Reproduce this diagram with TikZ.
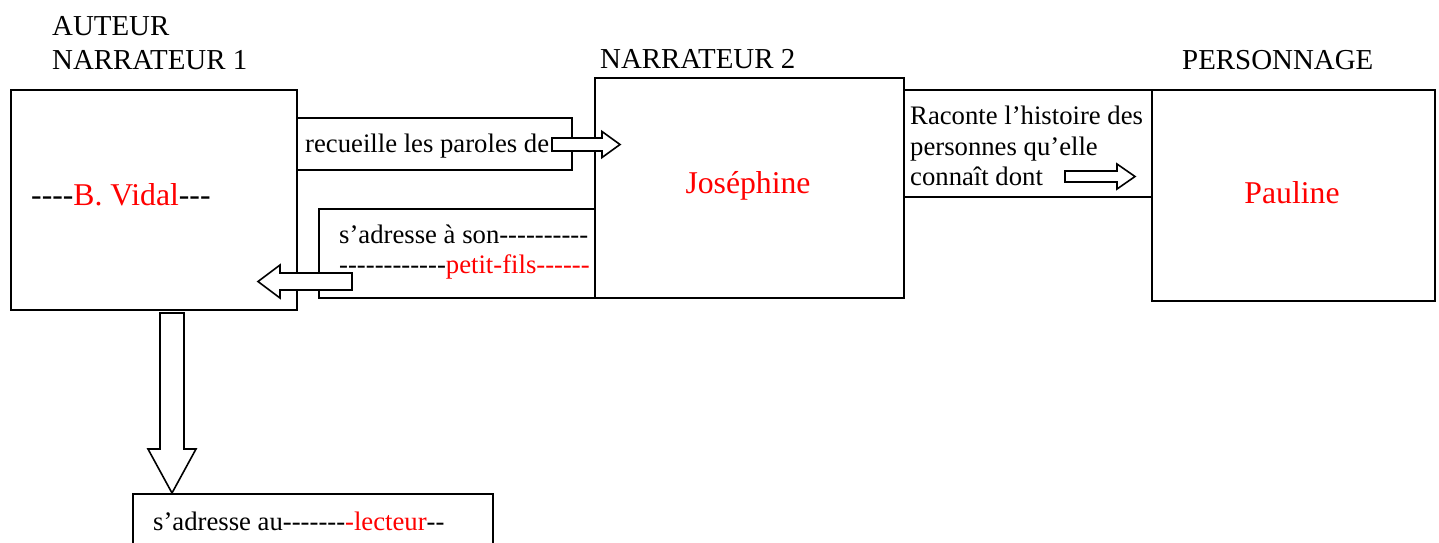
\documentclass[tikz,border=0pt]{standalone}
\usepackage{fontspec}
\setmainfont{Liberation Serif}[Ligatures=TeXOff]
\begin{document}
\begin{tikzpicture}[x=1pt,y=-1pt,
  box/.style={draw, line width=1.6pt, inner sep=0pt, anchor=north west},
  txt/.style={inner sep=0pt, anchor=base west, font=\fontsize{26.7}{31}\selectfont},
  ttl/.style={inner sep=0pt, anchor=base west, font=\fontsize{28.9}{34}\selectfont},
  nm/.style={inner sep=0pt, anchor=base, font=\fontsize{31.7}{36}\selectfont},
  barrow/.style={draw, fill=white, line width=1.6pt, line join=miter},
]
\useasboundingbox (0,0) rectangle (1439,542);
\clip (0,0) rectangle (1439,542);
% boxes
\node[box, minimum width=286pt, minimum height=220pt] (A) at (10,89) {};
\node[box, minimum width=309pt, minimum height=220pt] (J) at (594,77) {};
\node[box, minimum width=283pt, minimum height=211pt] (P) at (1151,89) {};
\node[box, minimum width=275pt, minimum height=52pt] (R) at (296,117) {};
\node[box, minimum width=276pt, minimum height=89pt] (S) at (318,208) {};
\node[box, minimum width=248pt, minimum height=107pt] (C) at (903,89) {};
\node[box, minimum width=360pt, minimum height=80pt] (B) at (132,493) {};
% titles
\node[ttl] (t1) at (52,35) {AUTEUR};
\node[ttl] (t2) at (52,69) {NARRATEUR 1};
\node[ttl] (t3) at (600,68) {NARRATEUR 2};
\node[ttl] (t4) at (1182,69) {PERSONNAGE};
% names
\node[nm, anchor=base west] (vidal) at (31,205) {----\textcolor{red}{B. Vidal}---};
\node[nm] (jos) at (748,193) {\color{red}Joséphine};
\node[nm] (paul) at (1292,203) {\color{red}Pauline};
% texts
\node[txt] (rt) at (305,152) {recueille les paroles de};
\node[txt] (s1) at (339,243) {s’adresse à son----------};
\node[txt] (s2) at (339,273) {------------\textcolor{red}{petit-fils------}};
\node[txt] (c1) at (910,124) {Raconte l’histoire des};
\node[txt] (c2) at (910,155) {personnes qu’elle};
\node[txt] (c3) at (910,185) {connaît dont};
\node[txt] (bt) at (153,530) {s’adresse au-------\textcolor{red}{-lecteur}--};
% block arrows
\draw[barrow] (552,138) -- (602,138) -- (602,131.5) -- (620,144.5) -- (602,157.5) -- (602,151) -- (552,151) -- cycle;
\draw[barrow] (352,273) -- (280,273) -- (280,265) -- (258,281.5) -- (280,298) -- (280,290) -- (352,290) -- cycle;
\draw[barrow] (1065,171) -- (1117,171) -- (1117,164) -- (1135,176.5) -- (1117,189) -- (1117,182) -- (1065,182) -- cycle;
\draw[barrow] (160,313) -- (160,449) -- (148,449) -- (172,493) -- (196,449) -- (184,449) -- (184,313) -- cycle;
\end{tikzpicture}
\end{document}
